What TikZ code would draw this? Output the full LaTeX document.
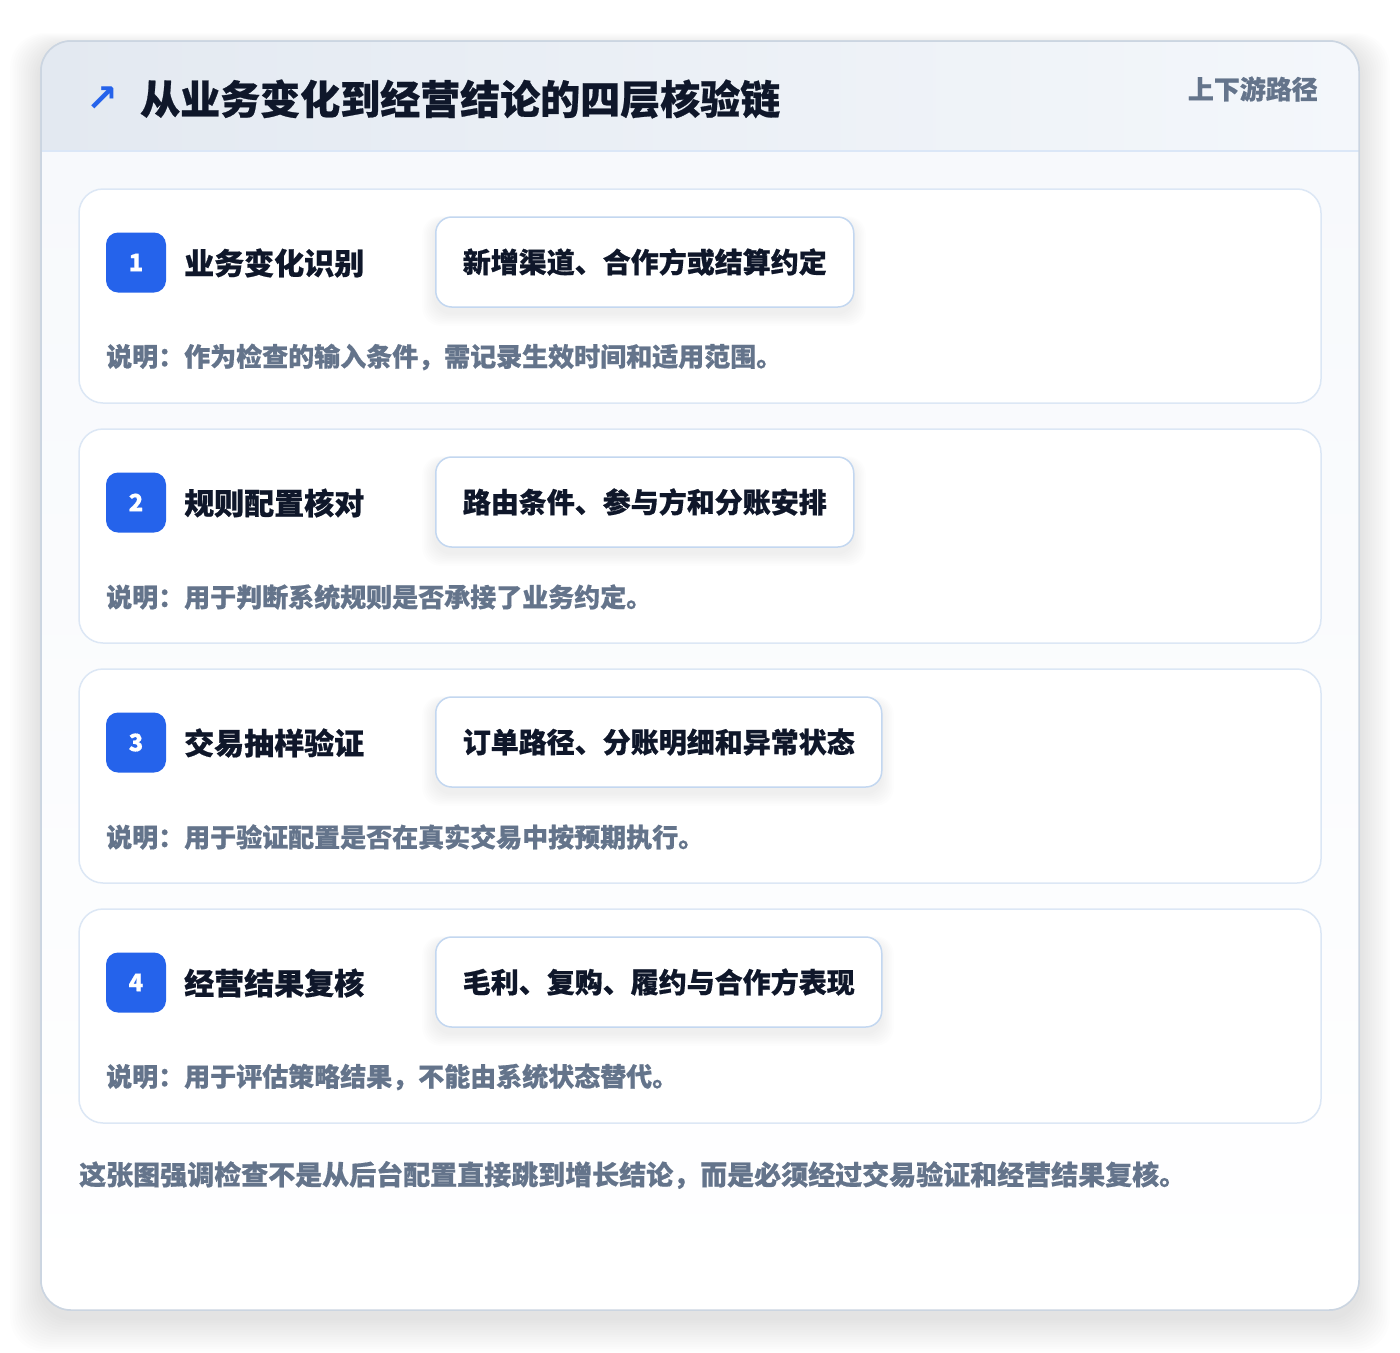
\documentclass[tikz,border=0pt]{standalone}
\usepackage{fontspec}
\setmainfont{Noto Sans CJK SC}[BoldFeatures={FakeBold=0.6}]
\newfontfamily\djv{DejaVu Sans}
\definecolor{cblue}{HTML}{2563EB}
\definecolor{cdark}{HTML}{0F172A}
\definecolor{cslate}{HTML}{64748B}
\definecolor{couter}{HTML}{CBD5E1}
\definecolor{ccard}{HTML}{DCE7F5}
\definecolor{cchip}{HTML}{C3D7F0}
\definecolor{cline}{HTML}{DBE7F7}
\definecolor{cbodytop}{HTML}{F7F9FC}
\definecolor{chead1}{HTML}{E3E9F1}
\definecolor{chead2}{HTML}{F4F7FB}
\tikzset{
  card/.style={draw=ccard, line width=1.5pt, fill=white, rounded corners=24pt,
    minimum width=1242pt, minimum height=214pt, inner sep=0pt},
  chip/.style={draw=cchip, line width=1.5pt, fill=white, rounded corners=16pt,
    minimum height=90pt, inner xsep=27pt, inner ysep=0pt, anchor=west,
    font=\fontsize{28}{34}\selectfont\bfseries, text=cdark},
  badge/.style={fill=cblue, rounded corners=12pt, minimum size=60pt, inner sep=0pt,
    text=white, font=\fontsize{24}{28}\selectfont\bfseries},
  steptitle/.style={anchor=west, inner sep=0pt, font=\fontsize{30}{36}\selectfont\bfseries, text=cdark},
  desc/.style={anchor=west, inner sep=0pt, font=\fontsize{26}{32}\selectfont\bfseries, text=cslate},
}
\newcommand{\chipshadow}[4]{% x1 y1 x2 y2
  \foreach \i in {1,...,8}{
    \fill[black, opacity=0.008, rounded corners=18pt]
      ({#1-\i*1.6}, {#2+4-\i*0.6}) rectangle ({#3+\i*1.6}, {#4+6+\i*1.6});
  }}
\begin{document}
\begin{tikzpicture}[x=1pt,y=-1pt]
\useasboundingbox (0,0) rectangle (1400,1352);
\fill[white] (0,0) rectangle (1400,1352);
% outer shadow
\foreach \i in {1,...,14}{
  \fill[black, opacity=0.007, rounded corners=34pt]
    ({41-\i*2.2}, {41+6-\i*1.0}) rectangle ({1359+\i*2.2}, {1310+8+\i*2.4});
}
% outer card
\node[draw=couter, line width=1.5pt, fill=white, rounded corners=30pt,
  minimum width=1318pt, minimum height=1269pt, inner sep=0pt] (outer) at (700,675.5) {};
\begin{scope}
  \clip[rounded corners=30pt] (41,41) rectangle (1359,1310);
  \shade[top color=cbodytop, bottom color=white] (41,151) rectangle (1359,1310);
  \shade[left color=chead1, right color=chead2] (41,41) rectangle (1359,151);
\end{scope}
\draw[cline, line width=1.5pt] (41,151) -- (1359,151);
\draw[couter, line width=1.5pt, rounded corners=30pt] (41,41) rectangle (1359,1310);
% header
\node[font=\djv\bfseries\fontsize{38}{44}\selectfont, text=cblue, inner sep=0pt] (icon) at (102,99) {↗};
\node[anchor=west, inner sep=0pt, font=\fontsize{40}{48}\selectfont\bfseries, text=cdark] (title) at (140,99) {从业务变化到经营结论的四层核验链};
\node[anchor=east, inner sep=0pt, font=\fontsize{26}{32}\selectfont\bfseries, text=cslate] (tag) at (1318,89) {上下游路径};
% step 1
\node[card] (c1) at (700,296) {};
\node[badge] (b1) at (136,262.5) {1};
\node[steptitle] (t1) at (184,263) {业务变化识别};
\chipshadow{435}{217}{853}{307}
\node[chip] (p1) at (435,262) {新增渠道、合作方或结算约定};
\node[desc] (d1) at (106,357) {说明：作为检查的输入条件，需记录生效时间和适用范围。};
% step 2
\node[card] (c2) at (700,536) {};
\node[badge] (b2) at (136,502.5) {2};
\node[steptitle] (t2) at (184,503) {规则配置核对};
\chipshadow{435}{457}{853}{547}
\node[chip] (p2) at (435,502) {路由条件、参与方和分账安排};
\node[desc] (d2) at (106,597) {说明：用于判断系统规则是否承接了业务约定。};
% step 3
\node[card] (c3) at (700,776) {};
\node[badge] (b3) at (136,742.5) {3};
\node[steptitle] (t3) at (184,743) {交易抽样验证};
\chipshadow{435}{697}{881}{787}
\node[chip] (p3) at (435,742) {订单路径、分账明细和异常状态};
\node[desc] (d3) at (106,837) {说明：用于验证配置是否在真实交易中按预期执行。};
% step 4
\node[card] (c4) at (700,1016) {};
\node[badge] (b4) at (136,982.5) {4};
\node[steptitle] (t4) at (184,983) {经营结果复核};
\chipshadow{435}{937}{881}{1027}
\node[chip] (p4) at (435,982) {毛利、复购、履约与合作方表现};
\node[desc] (d4) at (106,1077) {说明：用于评估策略结果，不能由系统状态替代。};
% footer
\node[anchor=west, inner sep=0pt, font=\fontsize{27}{32}\selectfont\bfseries, text=cslate] (foot) at (79,1175) {这张图强调检查不是从后台配置直接跳到增长结论，而是必须经过交易验证和经营结果复核。};
\end{tikzpicture}
\end{document}
